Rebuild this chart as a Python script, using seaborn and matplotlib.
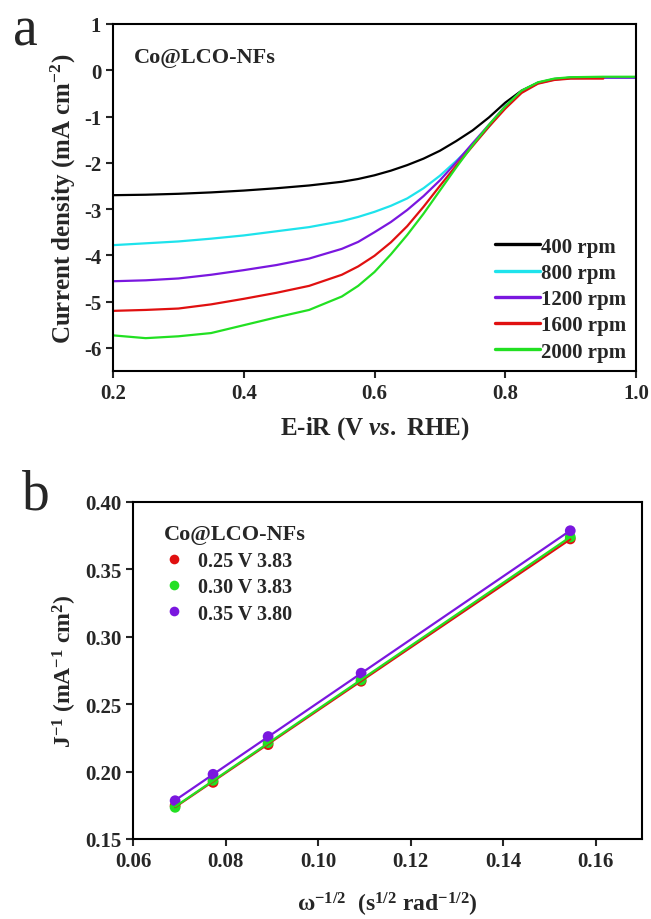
import numpy as np
import pandas as pd
import seaborn as sns
import matplotlib.pyplot as plt

# LSV data (panel a)
potential = [0.20, 0.25, 0.30, 0.35, 0.40, 0.45, 0.50, 0.55, 0.575, 0.60, 0.625, 0.65,
             0.675, 0.70, 0.725, 0.75, 0.775, 0.80, 0.825, 0.85, 0.875, 0.90, 0.95, 1.00]
j_400 = [-2.70, -2.69, -2.67, -2.64, -2.60, -2.55, -2.49, -2.41, -2.35, -2.27, -2.17, -2.05,
         -1.91, -1.74, -1.53, -1.30, -1.02, -0.70, -0.44, -0.27, -0.19, -0.16, -0.15, -0.15]
j_800 = [-3.78, -3.74, -3.70, -3.64, -3.57, -3.48, -3.39, -3.26, -3.17, -3.06, -2.93, -2.77,
         -2.55, -2.28, -1.96, -1.62, -1.22, -0.78, -0.45, -0.27, -0.19, -0.16, -0.15, -0.15]
j_1200 = [-4.56, -4.54, -4.50, -4.42, -4.32, -4.21, -4.07, -3.86, -3.71, -3.50, -3.28, -3.02,
          -2.72, -2.38, -1.99, -1.58, -1.18, -0.78, -0.46, -0.28, -0.20, -0.17, -0.16, -0.16]
j_1600 = [-5.20, -5.18, -5.15, -5.06, -4.94, -4.81, -4.66, -4.42, -4.24, -4.01, -3.72, -3.37,
          -2.95, -2.50, -2.06, -1.64, -1.22, -0.83, -0.49, -0.29, -0.21, -0.18, -0.18, np.nan]
j_2000 = [-5.73, -5.79, -5.75, -5.68, -5.51, -5.34, -5.18, -4.89, -4.66, -4.36, -3.98, -3.56,
          -3.10, -2.60, -2.10, -1.62, -1.18, -0.78, -0.44, -0.26, -0.18, -0.15, -0.14, -0.14]
rpm_labels = ["400 rpm", "800 rpm", "1200 rpm", "1600 rpm", "2000 rpm"]
rpm_colors = ["black", "#1EE3EC", "#7A17DF", "#E01010", "#22E022"]

# K-L data (panel b)
omega = [0.0691, 0.0773, 0.0892, 0.1093, 0.1545]
inv_025 = [0.1747, 0.1920, 0.2200, 0.2670, 0.3726]
inv_030 = [0.1735, 0.1935, 0.2215, 0.2680, 0.3740]
inv_035 = [0.1784, 0.1980, 0.2260, 0.2730, 0.3787]
kl_labels = ["0.25 V 3.83", "0.30 V 3.83", "0.35 V 3.80"]
kl_colors = ["#E01010", "#22E022", "#7A17DF"]

sns.set_style("ticks")
plt.rcParams['font.family'] = ['Liberation Serif', 'DejaVu Serif']
plt.rcParams['font.weight'] = 'bold'
plt.rcParams['axes.labelweight'] = 'bold'
plt.rcParams['mathtext.fontset'] = 'custom'
plt.rcParams['mathtext.rm'] = 'Liberation Serif:bold'
plt.rcParams['mathtext.bf'] = 'Liberation Serif:bold'
plt.rcParams['mathtext.it'] = 'Liberation Serif:bold:italic'

fig = plt.figure(figsize=(6.51, 9.2), dpi=100)
ax1 = fig.add_axes([113 / 651, 1 - 372 / 920, (636 - 113) / 651, (372 - 25) / 920])
ax2 = fig.add_axes([133 / 651, 1 - 840 / 920, (642 - 133) / 651, (840 - 503) / 920])

# panel a
df_a = pd.DataFrame({"E": potential, "400 rpm": j_400, "800 rpm": j_800,
                     "1200 rpm": j_1200, "1600 rpm": j_1600, "2000 rpm": j_2000})
df_a = df_a.melt(id_vars="E", var_name="rpm", value_name="j")
sns.lineplot(data=df_a, x="E", y="j", hue="rpm", hue_order=rpm_labels,
             palette=rpm_colors, linewidth=1.6, ax=ax1, sort=False)
ax1.set_xlim(0.2, 1.0)
ax1.set_ylim(-6.5, 1)
ax1.set_xticks([0.2, 0.4, 0.6, 0.8, 1.0])
ax1.set_yticks([1, 0, -1, -2, -3, -4, -5, -6])
ax1.set_yticklabels(["1", "0", "-1", "-2", "-3", "-4", "-5", "-6"])
ax1.set_xlabel(r"E-iR (V $\mathit{vs.}$ RHE)", fontsize=18, labelpad=8)
ax1.set_ylabel(r"Current density (mA cm$^{-2}$)", fontsize=18, labelpad=4)
ax1.text(0.04, 0.905, "Co@LCO-NFs", transform=ax1.transAxes, fontsize=16,
         fontweight='bold', va='center')
leg = ax1.legend(loc="lower right", frameon=False, fontsize=15, handlelength=2.2,
                 handletextpad=0.05, labelspacing=0.3, borderaxespad=0.05)
for h in leg.get_lines():
    h.set_linewidth(2.4)

# panel b
df_b = pd.DataFrame({"w": omega, kl_labels[0]: inv_025, kl_labels[1]: inv_030,
                     kl_labels[2]: inv_035}).melt(id_vars="w", var_name="V", value_name="inv")
sns.scatterplot(data=df_b, x="w", y="inv", hue="V", hue_order=kl_labels, palette=kl_colors,
                s=60, edgecolor="none", ax=ax2, zorder=2)
for lab, col in zip(kl_labels, kl_colors):
    sub = df_b[df_b["V"] == lab]
    sns.regplot(data=sub, x="w", y="inv", scatter=False, ci=None, color=col,
                line_kws={"linewidth": 1.6, "zorder": 3}, ax=ax2)
ax2.set_xlim(0.06, 0.17)
ax2.set_ylim(0.15, 0.40)
ax2.set_xticks([0.06, 0.08, 0.10, 0.12, 0.14, 0.16])
ax2.set_yticks([0.15, 0.20, 0.25, 0.30, 0.35, 0.40])
ax2.xaxis.set_major_formatter(plt.FormatStrFormatter("%.2f"))
ax2.yaxis.set_major_formatter(plt.FormatStrFormatter("%.2f"))
ax2.set_xlabel(r"ω$^{-1/2}$  (s$^{1/2}$ rad$^{-1/2}$)", fontsize=17, labelpad=14)
ax2.set_ylabel(r"J$^{-1}$ (mA$^{-1}$ cm$^{2}$)", fontsize=17, labelpad=4)
leg2 = ax2.legend(loc="upper left", frameon=False, fontsize=14.5, title="Co@LCO-NFs",
                  title_fontproperties={"size": 16, "weight": "bold"},
                  handlelength=1.0, handletextpad=0.7, labelspacing=0.32,
                  borderaxespad=0.0, markerscale=0.9, bbox_to_anchor=(0.045, 0.958))
leg2._legend_box.align = "left"

for ax in (ax1, ax2):
    for sp in ax.spines.values():
        sp.set_visible(True)
        sp.set_linewidth(1.5)
        sp.set_color("black")
    ax.tick_params(direction="out", length=5, width=1.5, labelsize=15,
                   top=False, right=False)
    for t in ax.get_xticklabels() + ax.get_yticklabels():
        t.set_fontweight("bold")

fig.text(25 / 651, 1 - 45 / 920, "a", fontsize=40, fontweight="normal", ha="center")
fig.text(36 / 651, 1 - 510 / 920, "b", fontsize=40, fontweight="normal", ha="center")

fig.savefig("out.png", dpi=100)
